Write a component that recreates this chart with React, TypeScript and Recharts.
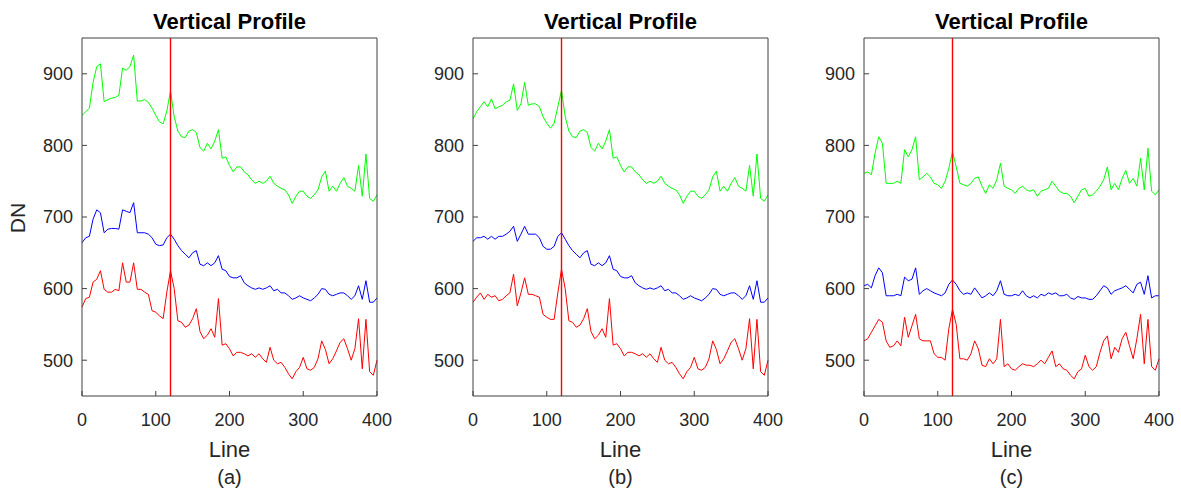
import React from "react";
import { LineChart, Line, XAxis, YAxis, ReferenceLine } from "recharts";

// sampled every 5 lines, 0..400
const STEP = 5;
const lines = Array.from({ length: 81 }, (_, i) => i * STEP);

const xTicks = [0, 100, 200, 300, 400];
const yTicks = [500, 600, 700, 800, 900];
const yDomain = [450, 950];
const markerLine = 120;
const panelLabels = ["(a)", "(b)", "(c)"];

// panel (a)
const greenA = [
  842, 847, 852, 888, 910, 914, 861, 864, 866, 867,
  870, 908, 905, 910, 926, 862, 862, 864, 860, 852,
  842, 833, 830, 848, 876, 840, 820, 812, 811, 820,
  822, 818, 797, 792, 803, 795, 806, 822, 782, 784,
  772, 763, 770, 770, 763, 759, 752, 747, 750, 747,
  750, 757, 747, 743, 740, 738, 731, 719, 729, 736,
  736, 729, 726, 731, 738, 756, 764, 736, 743, 736,
  747, 755, 743, 740, 736, 772, 729, 788, 726, 722,
  731,
];
const blueA = [
  664, 671, 673, 697, 710, 706, 678, 683, 684, 684,
  683, 710, 708, 706, 720, 678, 678, 678, 676, 671,
  662, 660, 661, 671, 676, 669, 660, 653, 648, 643,
  650, 653, 634, 632, 636, 632, 636, 646, 627, 625,
  617, 615, 615, 618, 608, 604, 601, 599, 601, 599,
  601, 604, 597, 599, 594, 594, 590, 585, 587, 590,
  587, 585, 583, 587, 592, 600, 599, 592, 590, 592,
  594, 594, 590, 585, 590, 604, 585, 611, 581, 581,
  587,
];
const redA = [
  574, 586, 588, 609, 613, 625, 599, 595, 595, 599,
  597, 636, 609, 609, 636, 599, 599, 595, 592, 569,
  567, 562, 558, 595, 625, 600, 555, 553, 546, 549,
  558, 572, 540, 530, 535, 544, 532, 586, 521, 523,
  516, 506, 511, 511, 509, 506, 509, 504, 509, 502,
  497, 518, 500, 495, 497, 490, 481, 474, 484, 490,
  504, 488, 486, 490, 502, 527, 515, 495, 502, 513,
  525, 530, 516, 500, 516, 558, 488, 557, 484, 479,
  500,
];

// panel (b): only lines 0..120 differ from (a)
const greenBHead = [
  837, 847, 854, 861, 854, 865, 851, 854, 856, 861,
  863, 886, 849, 858, 888, 856, 858, 858, 854, 840,
  831, 824, 831, 854, 877,
];
const blueBHead = [
  666, 671, 671, 673, 669, 673, 669, 673, 673, 676,
  680, 687, 666, 676, 687, 676, 676, 676, 671, 659,
  655, 655, 659, 673, 678,
];
const redBHead = [
  581, 588, 594, 585, 592, 588, 590, 583, 585, 590,
  594, 620, 576, 594, 615, 592, 592, 590, 588, 564,
  560, 557, 557, 594, 627,
];
const greenB = [...greenBHead, ...greenA.slice(greenBHead.length)];
const blueB = [...blueBHead, ...blueA.slice(blueBHead.length)];
const redB = [...redBHead, ...redA.slice(redBHead.length)];

// panel (c)
const greenC = [
  761, 763, 759, 789, 812, 803, 747, 747, 747, 750,
  747, 794, 784, 794, 812, 752, 756, 761, 756, 747,
  745, 740, 750, 768, 791, 770, 747, 745, 743, 747,
  754, 756, 743, 733, 745, 740, 752, 775, 743, 740,
  738, 733, 740, 743, 738, 736, 738, 729, 736, 738,
  740, 750, 743, 736, 733, 733, 729, 720, 729, 738,
  740, 729, 731, 736, 743, 752, 770, 738, 747, 738,
  754, 765, 747, 754, 743, 782, 738, 796, 736, 731,
  738,
];
const blueC = [
  604, 606, 601, 618, 629, 622, 590, 590, 590, 592,
  590, 616, 611, 613, 629, 592, 597, 600, 597, 594,
  592, 590, 594, 606, 612, 606, 597, 592, 594, 592,
  601, 594, 587, 590, 594, 590, 597, 611, 592, 590,
  590, 592, 590, 597, 590, 587, 590, 587, 592, 590,
  594, 592, 594, 590, 590, 592, 587, 585, 589, 587,
  587, 585, 585, 590, 597, 604, 601, 592, 597, 599,
  601, 604, 599, 594, 606, 609, 592, 618, 587, 590,
  590,
];
const redC = [
  527, 530, 539, 548, 557, 553, 527, 518, 520, 527,
  520, 560, 532, 548, 564, 530, 527, 527, 527, 509,
  504, 504, 500, 544, 571, 550, 502, 502, 500, 509,
  527, 516, 493, 491, 502, 495, 502, 557, 491, 495,
  488, 486, 491, 495, 493, 493, 491, 495, 500, 495,
  504, 513, 491, 495, 488, 486, 479, 474, 484, 488,
  507, 491, 486, 491, 511, 527, 534, 502, 518, 511,
  530, 539, 520, 502, 530, 564, 495, 557, 491, 486,
  502,
];

const buildRows = (green: number[], blue: number[], red: number[]) =>
  lines.map((line, i) => ({ line, green: green[i], blue: blue[i], red: red[i] }));

const panels = [
  buildRows(greenA, blueA, redA),
  buildRows(greenB, blueB, redB),
  buildRows(greenC, blueC, redC),
];

const FONT = "'Liberation Sans', Arial, Helvetica, sans-serif";
const AXIS = "#404040";
const TEXT = "#262626";
const PLOT_LEFTS = [82, 473, 864];
const PLOT_W = 295;
const Y_AXIS_W = 60;
const X_AXIS_H = 40;

const Panel = ({ data, plotLeft }: { data: any[]; plotLeft: number }) => {
  const chartLeft = plotLeft - 82;
  return (
    <div style={{ position: "absolute", left: chartLeft, top: 0 }}>
      <LineChart
        width={82 + PLOT_W + 20}
        height={492}
        data={data}
        margin={{ top: 37, right: 19, bottom: 96 - X_AXIS_H, left: 82 - Y_AXIS_W }}
      >
        <XAxis
          xAxisId="bottom"
          dataKey="line"
          type="number"
          domain={[0, 400]}
          ticks={xTicks}
          height={X_AXIS_H}
          stroke={AXIS}
          tickSize={-5}
          tickMargin={22}
          tick={{ fontSize: 18, fill: TEXT, fontFamily: FONT }}
        />
        {/* top and right axes close the box, ticks pointing inward */}
        <XAxis
          xAxisId="top"
          dataKey="line"
          orientation="top"
          type="number"
          domain={[0, 400]}
          ticks={xTicks}
          height={1}
          stroke={AXIS}
          tickSize={-5}
          tick={false}
        />
        <YAxis
          yAxisId="left"
          type="number"
          domain={yDomain}
          ticks={yTicks}
          width={Y_AXIS_W}
          stroke={AXIS}
          tickSize={-5}
          tickMargin={14}
          tick={{ fontSize: 18, fill: TEXT, fontFamily: FONT }}
        />
        <YAxis
          yAxisId="right"
          orientation="right"
          type="number"
          domain={yDomain}
          ticks={yTicks}
          width={1}
          stroke={AXIS}
          tickSize={-5}
          tick={false}
        />
        <Line xAxisId="top" yAxisId="right" dataKey="red" stroke="none" dot={false} legendType="none" isAnimationActive={false} />
        <Line xAxisId="bottom" yAxisId="left" dataKey="green" stroke="#00ff00" strokeWidth={1} dot={false} isAnimationActive={false} />
        <Line xAxisId="bottom" yAxisId="left" dataKey="blue" stroke="#0000ff" strokeWidth={1} dot={false} isAnimationActive={false} />
        <Line xAxisId="bottom" yAxisId="left" dataKey="red" stroke="#ff0000" strokeWidth={1} dot={false} isAnimationActive={false} />
        <ReferenceLine xAxisId="bottom" yAxisId="left" x={markerLine} stroke="#ff0000" strokeWidth={1.4} />
      </LineChart>
    </div>
  );
};

export default function App() {
  return (
    <div
      style={{
        position: "absolute",
        left: 0,
        top: 0,
        width: 1181,
        height: 492,
        background: "#fff",
        fontFamily: FONT,
      }}
    >
      {panels.map((data, i) => (
        <Panel key={i} data={data} plotLeft={PLOT_LEFTS[i]} />
      ))}
      <svg
        width={1181}
        height={492}
        style={{ position: "absolute", left: 0, top: 0, pointerEvents: "none" }}
      >
        {PLOT_LEFTS.map((left, i) => {
          const cx = left + PLOT_W / 2;
          return (
            <g key={i} fontFamily={FONT}>
              <text x={cx} y={29} textAnchor="middle" fontSize={22} fontWeight="bold" fill="#000">
                Vertical Profile
              </text>
              <text x={cx} y={457} textAnchor="middle" fontSize={22} fill={TEXT}>
                Line
              </text>
              <text x={cx} y={484} textAnchor="middle" fontSize={20} fill={TEXT}>
                {panelLabels[i]}
              </text>
            </g>
          );
        })}
        <text
          transform="translate(25,218) rotate(-90)"
          textAnchor="middle"
          fontSize={21}
          fill={TEXT}
          fontFamily={FONT}
        >
          DN
        </text>
      </svg>
    </div>
  );
}
